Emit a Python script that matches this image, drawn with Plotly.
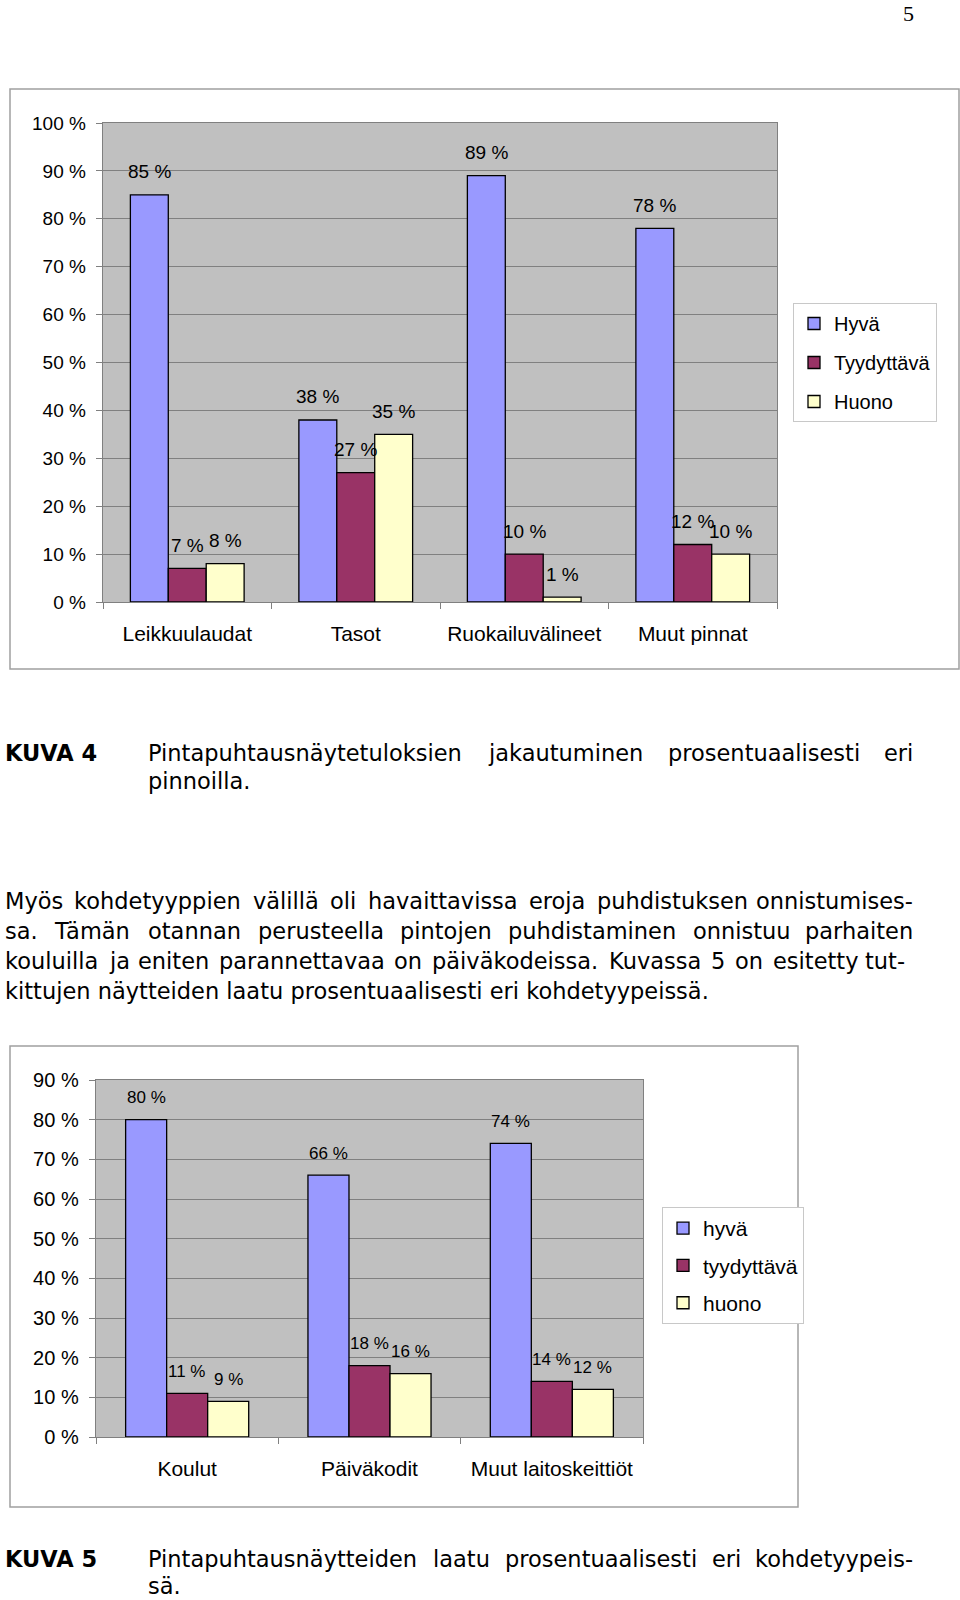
import plotly.graph_objects as go

W, H = 960, 1600

# ---------------- data ----------------
cats1 = ["Leikkuulaudat", "Tasot", "Ruokailuvälineet", "Muut pinnat"]
names1 = ["Hyvä", "Tyydyttävä", "Huono"]
hyva1 = [85, 38, 89, 78]
tyyd1 = [7, 27, 10, 12]
huono1 = [8, 35, 1, 10]
ticks1 = [0, 10, 20, 30, 40, 50, 60, 70, 80, 90, 100]

cats2 = ["Koulut", "Päiväkodit", "Muut laitoskeittiöt"]
names2 = ["hyvä", "tyydyttävä", "huono"]
hyva2 = [80, 66, 74]
tyyd2 = [11, 18, 14]
huono2 = [9, 16, 12]
ticks2 = [0, 10, 20, 30, 40, 50, 60, 70, 80, 90]

colors = ["#9999FF", "#993366", "#FFFFCC"]

para_lines = [
    "Myös kohdetyyppien välillä oli havaittavissa eroja puhdistuksen onnistumises-",
    "sa. Tämän otannan perusteella pintojen puhdistaminen onnistuu parhaiten",
    "kouluilla ja eniten parannettavaa on päiväkodeissa. Kuvassa 5 on esitetty tut-",
    "kittujen näytteiden laatu prosentuaalisesti eri kohdetyypeissä.",
]
cap4 = ["Pintapuhtausnäytetuloksien jakautuminen prosentuaalisesti eri", "pinnoilla."]
cap5 = ["Pintapuhtausnäytteiden laatu prosentuaalisesti eri kohdetyypeis-", "sä."]

# ---------------- layout geometry (px) ----------------
P1 = dict(l=103, r=777, t=123, b=602)
P2 = dict(l=96, r=643, t=1080, b=1437)
BARGAP = 0.325
CHART_FONT = "Liberation Sans, Arial, sans-serif"
BODY_FONT = "DejaVu Sans, sans-serif"
BODY_SIZE = 22.5


def px(x):
    return x / W


def py(y):
    return 1 - y / H


fig = go.Figure()

for vals, nm, col in zip([hyva1, tyyd1, huono1], names1, colors):
    fig.add_trace(go.Bar(x=cats1, y=vals, name=nm, marker=dict(color=col, line=dict(color="black", width=1.3)),
                         xaxis="x", yaxis="y", legend="legend", legendgroup="a" + nm, hoverinfo="skip"))
for vals, nm, col in zip([hyva2, tyyd2, huono2], names2, colors):
    fig.add_trace(go.Bar(x=cats2, y=vals, name=nm, marker=dict(color=col, line=dict(color="black", width=1.3)),
                         xaxis="x2", yaxis="y2", legend="legend2", legendgroup="b" + nm, hoverinfo="skip"))

annotations = []

# data labels
def add_labels(cats, series, P, xref, yref, size, yshift):
    n = len(series)
    bw = (P["r"] - P["l"]) / len(cats) * (1 - BARGAP) / n
    for j, vals in enumerate(series):
        for c, v in zip(cats, vals):
            annotations.append(dict(x=c, y=v, xref=xref, yref=yref, text=f"{v} %", showarrow=False,
                                    xshift=(j - (n - 1) / 2) * bw, yshift=yshift, yanchor="middle",
                                    font=dict(family=CHART_FONT, size=size, color="black")))

add_labels(cats1, [hyva1, tyyd1, huono1], P1, "x", "y", 19, 23)
add_labels(cats2, [hyva2, tyyd2, huono2], P2, "x2", "y2", 17, 22)

# body text with approximate justification
DV = {' ': .318, '.': .318, '-': .361, ',': .318,
      'a': .613, 'b': .635, 'c': .550, 'd': .635, 'e': .615, 'f': .352, 'g': .635, 'h': .634, 'i': .278,
      'j': .278, 'k': .579, 'l': .278, 'm': .974, 'n': .634, 'o': .612, 'p': .635, 'q': .635, 'r': .411,
      's': .521, 't': .392, 'u': .634, 'v': .592, 'w': .818, 'x': .592, 'y': .592, 'z': .525, 'ä': .613,
      'ö': .612, 'P': .603, 'T': .611, 'K': .656, 'M': .863, '5': .636, '4': .636}


def tw(s, size):
    return sum(DV.get(ch, 0.62) for ch in s) * size + 1.2


def text_line(line, y, x0, x1=None, size=BODY_SIZE):
    font = dict(family=BODY_FONT, size=size, color="black")
    if x1 is None:
        annotations.append(dict(x=px(x0), y=py(y), xref="paper", yref="paper", text=line, showarrow=False,
                                xanchor="left", yanchor="middle", font=font))
        return
    words = line.split(" ")
    total = sum(tw(w, size) for w in words)
    gap = max((x1 - x0 - total) / (len(words) - 1), DV[' '] * size)
    x = x0
    for k, w in enumerate(words):
        if k == len(words) - 1:
            annotations.append(dict(x=px(x1), y=py(y), xref="paper", yref="paper", text=w, showarrow=False,
                                    xanchor="right", yanchor="middle", font=font))
        else:
            annotations.append(dict(x=px(x), y=py(y), xref="paper", yref="paper", text=w, showarrow=False,
                                    xanchor="left", yanchor="middle", font=font))
        x += tw(w, size) + gap


bold = dict(family=BODY_FONT, size=BODY_SIZE, color="black", weight="bold")
annotations.append(dict(x=px(3), y=py(753), xref="paper", yref="paper", text="KUVA 4", showarrow=False,
                        xanchor="left", yanchor="middle", font=bold))
text_line(cap4[0], 753, 146, 915)
text_line(cap4[1], 781, 146)

for i, (ln, yy) in enumerate(zip(para_lines, [901, 931, 961, 991])):
    if i < 3:
        text_line(ln, yy, 3, 915 if i < 2 else 907)
    else:
        text_line(ln, yy, 3)

annotations.append(dict(x=px(3), y=py(1559), xref="paper", yref="paper", text="KUVA 5", showarrow=False,
                        xanchor="left", yanchor="middle", font=bold))
text_line(cap5[0], 1559, 146, 915)
text_line(cap5[1], 1586, 146)

annotations.append(dict(x=px(908), y=py(13), xref="paper", yref="paper", text="5", showarrow=False,
                        xanchor="center", yanchor="middle",
                        font=dict(family="Liberation Serif, Times New Roman, serif", size=22, color="black")))

shapes = [
    dict(type="rect", xref="paper", yref="paper", x0=px(10), x1=px(959), y0=py(89), y1=py(669),
         line=dict(color="#A0A0A0", width=1.5), fillcolor="rgba(0,0,0,0)", layer="below"),
    dict(type="rect", xref="paper", yref="paper", x0=px(10), x1=px(798), y0=py(1046), y1=py(1507),
         line=dict(color="#A0A0A0", width=1.5), fillcolor="rgba(0,0,0,0)", layer="below"),
]

axis_common = dict(showline=True, linecolor="#808080", linewidth=1.3, mirror=True, automargin=False,
                   ticks="outside", ticklen=6, tickcolor="#808080", fixedrange=True)

fig.update_layout(
    width=W, height=H, autosize=False,
    margin=dict(l=0, r=0, t=0, b=0, pad=0, autoexpand=False),
    paper_bgcolor="white", plot_bgcolor="#C0C0C0",
    barmode="group", bargap=BARGAP, bargroupgap=0,
    showlegend=True,
    xaxis=dict(domain=[px(P1["l"]), px(P1["r"])], anchor="y", type="category", tickson="boundaries",
               tickfont=dict(family=CHART_FONT, size=21, color="black"), ticklabelstandoff=12,
               showgrid=False, **axis_common),
    yaxis=dict(domain=[py(P1["b"]), py(P1["t"])], anchor="x", range=[0, 100], tickvals=ticks1,
               ticktext=[f"{t} %" for t in ticks1], showgrid=True, gridcolor="#808080", gridwidth=1,
               tickfont=dict(family=CHART_FONT, size=19, color="black"), ticklabelstandoff=6,
               zeroline=False, **axis_common),
    xaxis2=dict(domain=[px(P2["l"]), px(P2["r"])], anchor="y2", type="category", tickson="boundaries",
                tickfont=dict(family=CHART_FONT, size=21, color="black"), ticklabelstandoff=12,
                showgrid=False, **axis_common),
    yaxis2=dict(domain=[py(P2["b"]), py(P2["t"])], anchor="x2", range=[0, 90], tickvals=ticks2,
                ticktext=[f"{t} %" for t in ticks2], showgrid=True, gridcolor="#808080", gridwidth=1,
                tickfont=dict(family=CHART_FONT, size=20, color="black"), ticklabelstandoff=6,
                zeroline=False, **axis_common),
    legend=dict(x=px(793), y=py(303), xanchor="left", yanchor="top", bgcolor="white",
                bordercolor="#C8C8C8", borderwidth=1, tracegroupgap=10,
                font=dict(family=CHART_FONT, size=20, color="black"), itemclick=False, itemdoubleclick=False),
    legend2=dict(x=px(662), y=py(1207), xanchor="left", yanchor="top", bgcolor="white",
                 bordercolor="#C8C8C8", borderwidth=1, tracegroupgap=7,
                 font=dict(family=CHART_FONT, size=21, color="black"), itemclick=False, itemdoubleclick=False),
    annotations=annotations,
    shapes=shapes,
)

fig.write_html("out.html", config={"displayModeBar": False, "staticPlot": True},
               post_script="document.body.style.margin='0';document.body.style.overflow='hidden';")
